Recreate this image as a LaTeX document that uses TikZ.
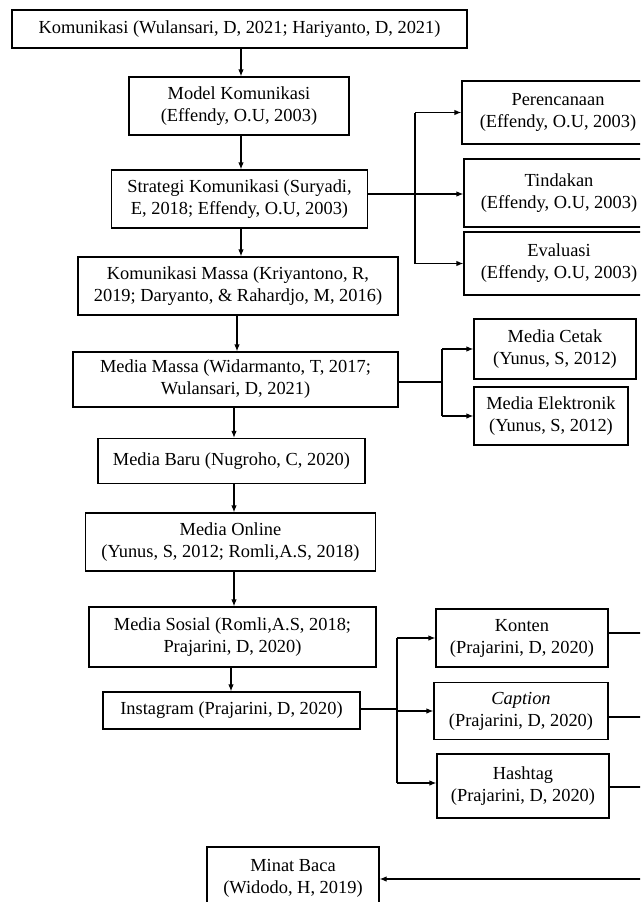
\documentclass[tikz,border=0pt]{standalone}
\usepackage{fontspec}
\setmainfont{Liberation Serif}
\usetikzlibrary{arrows.meta}
\begin{document}
\begin{tikzpicture}[x=1pt,y=-1pt,
  box/.style={draw, line width=1.2pt, align=center, inner sep=0pt,
    font=\fontsize{18.4}{22}\selectfont},
  arr/.style={-{Latex[length=7pt,width=5.5pt]}, line width=1.2pt},
  ln/.style={line width=1.2pt}]
\useasboundingbox (0,0) rectangle (640,902);
\fill[white] (0,0) rectangle (640,902);
\clip (0,0) rectangle (640,902);
% main column
\node[box, minimum width=455pt, minimum height=38pt] (kom) at (239.5,29) {Komunikasi (Wulansari, D, 2021; Hariyanto, D, 2021)};
\node[box, minimum width=220pt, minimum height=58pt] (model) at (239,106) {Model Komunikasi\\(Effendy, O.U, 2003)};
\node[box, minimum width=256pt, minimum height=58pt] (strat) at (239.5,199) {Strategi Komunikasi (Suryadi,\\E, 2018; Effendy, O.U, 2003)};
\node[box, minimum width=320pt, minimum height=58pt] (kmassa) at (238,286) {Komunikasi Massa (Kriyantono, R,\\2019; Daryanto, \& Rahardjo, M, 2016)};
\node[box, minimum width=325pt, minimum height=55pt] (mmassa) at (235.5,379.5) {Media Massa (Widarmanto, T, 2017;\\Wulansari, D, 2021)};
\node[box, minimum width=267pt, minimum height=45pt] (mbaru) at (231.5,461) {Media Baru (Nugroho, C, 2020)};
\node[box, minimum width=290pt, minimum height=58pt] (monline) at (230.5,542) {Media Online\\(Yunus, S, 2012; Romli,A.S, 2018)};
\node[box, minimum width=287pt, minimum height=60pt] (msosial) at (232.5,637) {Media Sosial (Romli,A.S, 2018;\\Prajarini, D, 2020)};
\node[box, minimum width=257pt, minimum height=37pt] (insta) at (231.5,710.5) {Instagram (Prajarini, D, 2020)};
\node[box, minimum width=172pt, minimum height=62pt] (minat) at (293,878) {Minat Baca\\(Widodo, H, 2019)};
% right column
\node[box, minimum width=192pt, minimum height=63pt] (per) at (558,112.5) {Perencanaan\\(Effendy, O.U, 2003)};
\node[box, minimum width=190pt, minimum height=68pt] (tin) at (559,193) {Tindakan\\(Effendy, O.U, 2003)};
\node[box, minimum width=190pt, minimum height=63pt] (eva) at (559,263.5) {Evaluasi\\(Effendy, O.U, 2003)};
\node[box, minimum width=162pt, minimum height=60pt] (cetak) at (555,349) {Media Cetak\\(Yunus, S, 2012)};
\node[box, minimum width=154pt, minimum height=58pt] (elek) at (551,416) {Media Elektronik\\(Yunus, S, 2012)};
\node[box, minimum width=172pt, minimum height=58pt] (konten) at (522,638) {Konten\\(Prajarini, D, 2020)};
\node[box, minimum width=174pt, minimum height=57pt] (caption) at (521,711) {\textit{Caption}\\(Prajarini, D, 2020)};
\node[box, minimum width=172pt, minimum height=64pt] (hashtag) at (523,786) {Hashtag\\(Prajarini, D, 2020)};
% column and junction coordinates
\coordinate (xa) at (241,0);
\coordinate (xb) at (237,0);
\coordinate (xc) at (234,0);
\coordinate (xd) at (231,0);
\coordinate (j1) at (415,194);
\coordinate (j2) at (442,382);
\coordinate (j3) at (397,709);
\coordinate (yh) at (0,783);
\coordinate (edge) at (650,0);
\coordinate (ret) at (650,879);
% vertical flow
\draw[arr] (kom.south -| xa) -- (model.north -| xa);
\draw[arr] (model.south -| xa) -- (strat.north -| xa);
\draw[arr] (strat.south -| xa) -- (kmassa.north -| xa);
\draw[arr] (kmassa.south -| xb) -- (mmassa.north -| xb);
\draw[arr] (mmassa.south -| xc) -- (mbaru.north -| xc);
\draw[arr] (mbaru.south -| xc) -- (monline.north -| xc);
\draw[arr] (monline.south -| xc) -- (msosial.north -| xc);
\draw[arr] (msosial.south -| xd) -- (insta.north -| xd);
% strategi branch
\draw[ln] (strat.east |- j1) -- (j1);
\draw[ln] (j1 |- per.west) -- (j1 |- eva.west);
\draw[arr] (j1 |- per.west) -- (per.west);
\draw[arr] (j1) -- (tin.west |- j1);
\draw[arr] (j1 |- eva.west) -- (eva.west);
% media massa branch
\draw[ln] (mmassa.east |- j2) -- (j2);
\draw[ln] (j2 |- cetak.west) -- (j2 |- elek.west);
\draw[arr] (j2 |- cetak.west) -- (cetak.west);
\draw[arr] (j2 |- elek.west) -- (elek.west);
% instagram branch
\draw[ln] (insta.east |- j3) -- (j3);
\draw[ln] (j3 |- konten.west) -- (j3 |- yh);
\draw[arr] (j3 |- konten.west) -- (konten.west);
\draw[arr] (j3 |- caption.west) -- (caption.west);
\draw[arr] (j3 |- yh) -- (hashtag.west |- yh);
% lines to the right edge and return
\draw[ln] ([yshift=5pt]konten.east) -- ([yshift=5pt]konten.east -| edge);
\draw[ln] ([yshift=-6pt]caption.east) -- ([yshift=-6pt]caption.east -| edge);
\draw[ln] ([yshift=-1pt]hashtag.east) -- ([yshift=-1pt]hashtag.east -| edge);
\draw[arr] (ret) -- (minat.east |- ret);
\end{tikzpicture}
\end{document}
